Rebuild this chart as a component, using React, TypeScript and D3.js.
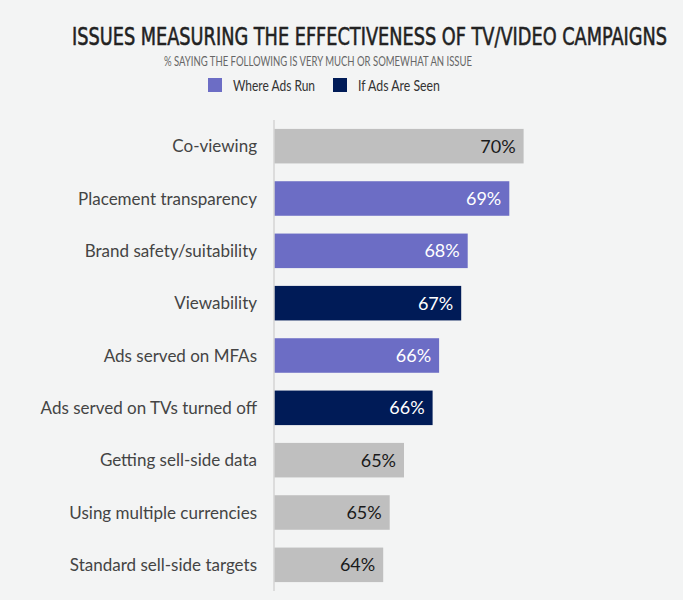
import { useEffect, useRef } from "react";
import * as d3 from "d3";

// bar data, top to bottom
const categories = [
  "Co-viewing",
  "Placement transparency",
  "Brand safety/suitability",
  "Viewability",
  "Ads served on MFAs",
  "Ads served on TVs turned off",
  "Getting sell-side data",
  "Using multiple currencies",
  "Standard sell-side targets",
];
const values = [69.7, 69.15, 67.55, 67.3, 66.45, 66.2, 65.1, 64.55, 64.3];
// "none" = not in a legend group
const groups = ["none", "where", "where", "seen", "where", "seen", "none", "none", "none"];

const legendKeys = ["where", "seen"];
const legendLabels = ["Where Ads Run", "If Ads Are Seen"];

const W = 683;
const H = 600;
const FONT = "Lato, 'Open Sans', sans-serif";

const COLORS: Record<string, string> = {
  none: "#bfbfbf",
  where: "#6c6dc5",
  seen: "#001b57",
};

export default function App() {
  const ref = useRef<SVGSVGElement | null>(null);

  useEffect(() => {
    if (!ref.current) return;
    const svg = d3.select(ref.current);
    svg.selectAll("*").remove();

    svg.append("rect").attr("width", W).attr("height", H).attr("fill", "#f3f4f4");

    // title block: small font stretched vertically so its natural width fits
    svg
      .append("text")
      .attr("transform", "translate(72,45) scale(1,1.33)")
      .attr("textLength", 595)
      .attr("lengthAdjust", "spacingAndGlyphs")
      .attr("font-family", "'DejaVu Sans Condensed', " + FONT)
      .attr("font-weight", 400)
      .attr("font-size", 18)
      .attr("stroke", "#222")
      .attr("stroke-width", 0.4)
      .attr("fill", "#222")
      .text("ISSUES MEASURING THE EFFECTIVENESS OF TV/VIDEO CAMPAIGNS");

    svg
      .append("text")
      .attr("x", 164)
      .attr("y", 65.5)
      .attr("textLength", 308)
      .attr("lengthAdjust", "spacingAndGlyphs")
      .attr("font-family", FONT)
      .attr("font-size", 12.5)
      .attr("fill", "#666")
      .text("% SAYING THE FOLLOWING IS VERY MUCH OR SOMEWHAT AN ISSUE");

    // legend
    const legendX = [208, 333];
    const legendW = [82, 82];
    const lg = svg
      .append("g")
      .selectAll("g")
      .data(legendKeys)
      .join("g")
      .attr("transform", (_d, i) => `translate(${legendX[i]},78)`);
    lg.append("rect")
      .attr("width", 14)
      .attr("height", 14)
      .attr("fill", (d) => COLORS[d]);
    lg.append("text")
      .attr("x", 25)
      .attr("y", 13)
      .attr("textLength", (_d, i) => legendW[i])
      .attr("lengthAdjust", "spacingAndGlyphs")
      .attr("font-family", FONT)
      .attr("font-size", 16)
      .attr("fill", "#333")
      .text((_d, i) => legendLabels[i]);

    const x = d3.scaleLinear().domain([60.1, 70.1]).range([274, 534]);
    const y = d3
      .scaleBand<string>()
      .domain(categories)
      .range([120, 591])
      .paddingInner(0.34)
      .paddingOuter(0.17);

    const rows = svg
      .append("g")
      .selectAll("g")
      .data(categories)
      .join("g");

    rows
      .append("rect")
      .attr("x", x(60.1))
      .attr("y", (d) => y(d)!)
      .attr("width", (_d, i) => x(values[i]) - x(60.1))
      .attr("height", y.bandwidth())
      .attr("fill", (_d, i) => COLORS[groups[i]]);

    rows
      .append("text")
      .attr("x", (_d, i) => x(values[i]) - 8)
      .attr("y", (d) => y(d)! + y.bandwidth() / 2)
      .attr("dy", "0.36em")
      .attr("text-anchor", "end")
      .attr("font-family", FONT)
      .attr("font-size", 18)
      .attr("fill", (_d, i) => (groups[i] === "none" ? "#1a1a1a" : "#fff"))
      .text((_d, i) => `${Math.round(values[i])}%`);

    rows
      .append("text")
      .attr("x", 257)
      .attr("y", (d) => y(d)! + y.bandwidth() / 2)
      .attr("dy", "0.36em")
      .attr("text-anchor", "end")
      .attr("font-family", FONT)
      .attr("font-size", 17)
      .attr("fill", "#444")
      .text((d) => d);

    // baseline
    svg
      .append("line")
      .attr("x1", x(60.1))
      .attr("x2", x(60.1))
      .attr("y1", 120)
      .attr("y2", 591)
      .attr("stroke", "#d4d4d4")
      .attr("stroke-width", 1.5);
  }, []);

  return (
    <svg
      ref={ref}
      width={W}
      height={H}
      style={{ position: "absolute", left: 0, top: 0, display: "block" }}
    />
  );
}
